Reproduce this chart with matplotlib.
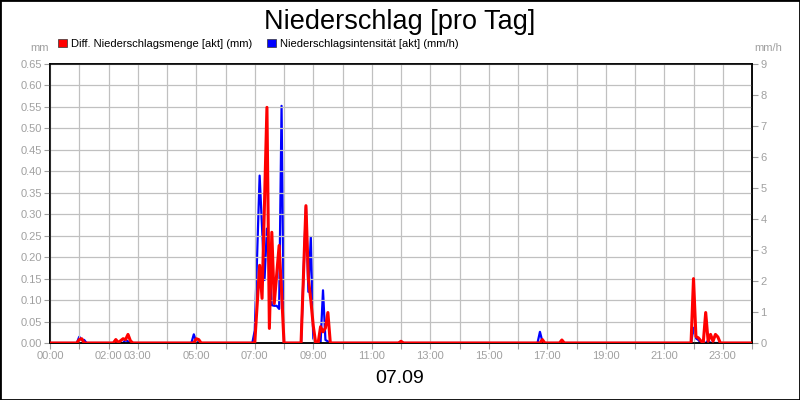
import matplotlib
matplotlib.use('Agg')
import matplotlib.pyplot as plt
from matplotlib.patches import Patch, Rectangle

plt.rcParams['font.family'] = ['Liberation Sans', 'DejaVu Sans']

# Diff. Niederschlagsmenge [akt] (mm) - linke Achse
red_times = ['00:00', '00:55', '01:00', '01:05', '01:10',
             '02:10', '02:15', '02:20', '02:30', '02:35', '02:40', '02:45', '02:50',
             '04:55', '05:00', '05:05', '05:10',
             '07:00', '07:10', '07:15', '07:25', '07:30', '07:35', '07:40', '07:50', '07:55', '08:00',
             '08:35', '08:45', '08:50', '08:55', '09:00', '09:05',
             '09:10', '09:15', '09:20', '09:25', '09:30', '09:35',
             '11:55', '12:00', '12:05',
             '16:45', '16:50', '16:55', '17:25', '17:30', '17:35',
             '21:55', '22:00', '22:05', '22:10', '22:15', '22:20', '22:25', '22:30',
             '22:35', '22:40', '22:45', '22:50', '22:55', '24:00']
red_mm = [0, 0, 0.008, 0.010, 0,
          0, 0.008, 0.001, 0.010, 0.008, 0.020, 0.005, 0,
          0, 0.010, 0.008, 0,
          0, 0.181, 0.104, 0.549, 0.034, 0.258, 0.092, 0.227, 0.12, 0,
          0, 0.320, 0.150, 0.100, 0.040, 0,
          0, 0.038, 0.026, 0.035, 0.071, 0,
          0, 0.004, 0,
          0, 0.008, 0, 0, 0.007, 0,
          0, 0.150, 0.015, 0.012, 0.005, 0, 0.071, 0.004,
          0.020, 0.004, 0.020, 0.014, 0, 0]

# Niederschlagsintensität [akt] (mm/h) - rechte Achse
blue_times = ['00:00', '00:55', '01:00', '01:05', '01:10', '01:15',
              '02:10', '02:15', '02:20', '02:30', '02:35', '02:40', '02:45',
              '04:50', '04:55', '05:00', '05:05',
              '06:55', '07:00', '07:10', '07:20', '07:25', '07:35', '07:40', '07:45', '07:50', '07:55', '08:00',
              '08:35', '08:45', '08:50', '08:55', '09:00', '09:05',
              '09:15', '09:20', '09:25', '09:30', '09:35',
              '11:55', '12:00', '12:05',
              '16:40', '16:45', '16:50', '16:55',
              '21:55', '22:00', '22:05', '22:10', '22:15', '22:25', '22:30', '22:35', '24:00']
blue_mmh = [0, 0, 0.20, 0.10, 0.10, 0,
            0, 0.10, 0, 0, 0.10, 0.05, 0,
            0, 0.28, 0.05, 0,
            0, 0.40, 5.40, 2.03, 3.69, 1.22, 1.20, 1.20, 1.10, 7.65, 0,
            0, 4.40, 1.65, 3.42, 0.15, 0,
            0, 1.70, 0.10, 0.05, 0,
            0, 0.05, 0,
            0, 0.36, 0.05, 0,
            0, 0.49, 0.15, 0.10, 0, 0, 0.08, 0, 0]

hour_labels = {0: '00:00', 2: '02:00', 3: '03:00', 5: '05:00', 7: '07:00', 9: '09:00',
               11: '11:00', 13: '13:00', 15: '15:00', 17: '17:00', 19: '19:00',
               21: '21:00', 23: '23:00'}


def to_hours(t):
    h, m = t.split(':')
    return int(h) + int(m) / 60


grey = '#a0a0a0'
grid_c = '#c0c0c0'

fig = plt.figure(figsize=(8, 4), dpi=100)
ax = fig.add_axes([50 / 800, 1 - 343 / 400, 702 / 800, 279 / 400])
ax2 = ax.twinx()

ax2.plot([to_hours(t) for t in blue_times], blue_mmh, color='#0000ff', lw=1.6, zorder=2)
ax.plot([to_hours(t) for t in red_times], red_mm, color='#ff0000', lw=2.2, zorder=3)
ax.set_zorder(ax2.get_zorder() + 1)
ax.patch.set_visible(False)

ax.set_xlim(0, 24)
ax.set_ylim(0, 0.65)
ax2.set_ylim(0, 9)

ax.set_xticks(range(25))
ax.set_xticklabels([hour_labels.get(h, '') for h in range(25)])
ax.set_yticks([i * 0.05 for i in range(14)])
ax.set_yticklabels(['%.2f' % (i * 0.05) for i in range(14)])
ax2.set_yticks(range(10))

ax.grid(True, color=grid_c, lw=0.9)
ax.set_axisbelow(True)
for a in (ax, ax2):
    a.tick_params(colors=grey, labelsize=8, length=4, width=0.8, pad=2)
    for s in a.spines.values():
        s.set_color('black')
        s.set_linewidth(1.1)

fig.text(0.5, 1 - 29 / 400, 'Niederschlag [pro Tag]', ha='center', va='baseline', fontsize=19.5)
fig.text(0.5, 1 - 383 / 400, '07.09', ha='center', va='baseline', fontsize=14)
fig.text(40 / 800, 1 - 48 / 400, 'mm', ha='center', va='center', fontsize=8, color=grey)
fig.text(768 / 800, 1 - 48 / 400, 'mm/h', ha='center', va='center', fontsize=8, color=grey)

handles = [Patch(facecolor='#ff0000', edgecolor='#333333', lw=0.5),
           Patch(facecolor='#0000ff', edgecolor='#333333', lw=0.5)]
fig.legend(handles, ['Diff. Niederschlagsmenge [akt] (mm)', 'Niederschlagsintensität [akt] (mm/h)'],
           loc='center left', bbox_to_anchor=(58 / 800, 1 - 44 / 400), ncol=2, frameon=False,
           fontsize=8, handlelength=0.8, handleheight=0.8, handletextpad=0.4,
           columnspacing=1.3, borderpad=0, borderaxespad=0)

fig.add_artist(Rectangle((0, 0), 1, 1, transform=fig.transFigure, fill=False,
                         edgecolor='black', lw=2))

fig.savefig('out.png', dpi=100)
